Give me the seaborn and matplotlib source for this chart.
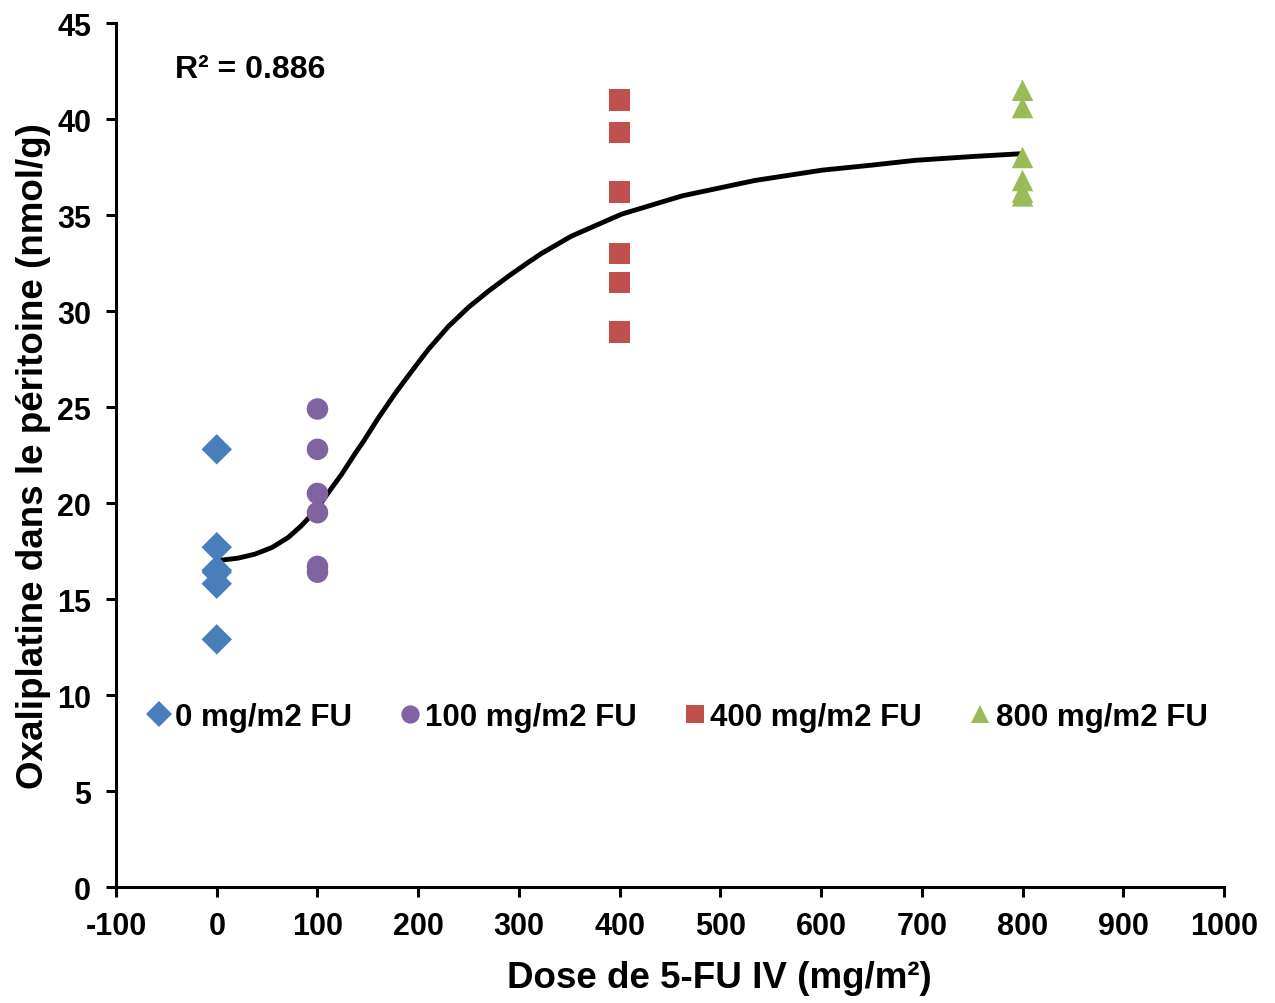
import numpy as np
import pandas as pd
import matplotlib
matplotlib.use("Agg")
import matplotlib.pyplot as plt
import seaborn as sns

# =========================
# Data
# =========================
groups = ["0 mg/m2 FU", "100 mg/m2 FU", "400 mg/m2 FU", "800 mg/m2 FU"]
doses = [0, 100, 400, 800]

vals_0 = [22.8, 17.7, 16.5, 16.4, 15.8, 12.9]
vals_100 = [24.9, 22.8, 20.5, 19.5, 16.7, 16.4]
vals_400 = [41.0, 39.3, 36.2, 33.0, 31.5, 28.9]
vals_800 = [41.5, 40.6, 38.0, 36.8, 36.2, 36.0]

# fitted curve
curve_x = [0, 5, 21, 38, 55, 71, 84, 98, 111, 124, 137, 146, 160, 177, 194,
           210, 230, 250, 270, 290, 309, 323, 352, 402, 462, 534, 601, 650,
           693, 750, 800]
curve_y = [17.0, 17.03, 17.13, 17.34, 17.69, 18.21, 18.82, 19.6, 20.56, 21.5,
           22.55, 23.24, 24.4, 25.7, 26.9, 28.0, 29.2, 30.2, 31.05, 31.83,
           32.53, 33.02, 33.9, 35.05, 36.0, 36.8, 37.34, 37.6, 37.85, 38.05,
           38.2]

r2_text = "R² = 0.886"

colors = {
    groups[0]: "#4A7EBB",
    groups[1]: "#8064A2",
    groups[2]: "#C0504D",
    groups[3]: "#9BBB59",
}
markers = {groups[0]: "D", groups[1]: "o", groups[2]: "s", groups[3]: "^"}

rows = []
for g, d, v in zip(groups, doses, [vals_0, vals_100, vals_400, vals_800]):
    for y in v:
        rows.append({"group": g, "dose": d, "oxa": y})
df = pd.DataFrame(rows)
df_curve = pd.DataFrame({"dose": curve_x, "oxa": curve_y})

# =========================
# Style
# =========================
sns.set_style("ticks")
plt.rcParams["font.family"] = ["Liberation Sans", "DejaVu Sans"]
plt.rcParams["font.weight"] = "bold"
plt.rcParams["axes.unicode_minus"] = False
plt.rcParams["text.color"] = "black"
plt.rcParams["axes.labelcolor"] = "black"

fig = plt.figure(figsize=(12.75, 10.04), dpi=100)
ax = fig.add_axes([0.091, 0.1155, 0.869, 0.8605])

sns.lineplot(data=df_curve, x="dose", y="oxa", color="black", linewidth=3.5,
             ax=ax, zorder=2)

sns.scatterplot(data=df, x="dose", y="oxa", hue="group", style="group",
                palette=colors, markers=markers, s=240, linewidth=0,
                ax=ax, zorder=3)

# =========================
# Axes
# =========================
ax.set_xlim(-100, 1000)
ax.set_ylim(0, 45)
ax.set_xticks(np.arange(-100, 1001, 100))
ax.set_yticks(np.arange(0, 46, 5))

sns.despine(ax=ax)
for sp in ["left", "bottom"]:
    ax.spines[sp].set_linewidth(2.2)
    ax.spines[sp].set_color("black")

ax.tick_params(axis="both", labelsize=22, width=2.2, length=7, color="black",
               labelcolor="black")
ax.tick_params(axis="x", pad=10)
ax.tick_params(axis="y", pad=11)
for lab in ax.get_xticklabels() + ax.get_yticklabels():
    lab.set_fontweight("bold")

ax.set_xlabel("Dose de 5-FU IV (mg/m²)", fontsize=26.5, fontweight="bold")
ax.xaxis.set_label_coords(0.545, -0.084)
ax.set_ylabel("Oxaliplatine dans le péritoine (nmol/g)", fontsize=26.5,
              fontweight="bold", labelpad=4)

ax.text(0.053, 0.947, r2_text, transform=ax.transAxes, fontsize=23,
        fontweight="bold", ha="left", va="center")

# =========================
# Legend
# =========================
sns.move_legend(ax, "center", bbox_to_anchor=(0.507, 0.197), ncol=4,
                frameon=False, title=None, fontsize=22.5, handletextpad=0.15,
                handlelength=0.7, columnspacing=1.5, markerscale=0.85)
for t in ax.get_legend().get_texts():
    t.set_fontweight("bold")

plt.savefig("out.png", dpi=100)
